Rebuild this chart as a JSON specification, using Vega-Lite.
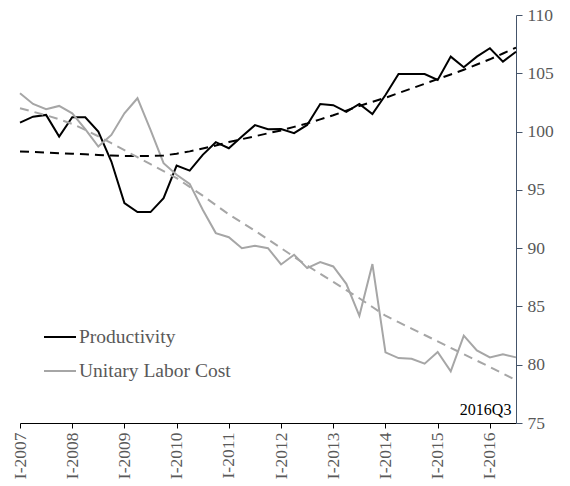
{
  "$schema": "https://vega.github.io/schema/vega-lite/v6.json",
  "width": 496,
  "height": 408,
  "autosize": {"type": "none"},
  "padding": {"left": 20, "top": 15, "right": 54, "bottom": 63},
  "config": {"view": {"stroke": null}, "font": "Liberation Serif"},
  "datasets": {
    "series": [
    {"i":0,"series":"Productivity","value":100.77,"trend":98.3},
    {"i":1,"series":"Productivity","value":101.28,"trend":98.25},
    {"i":2,"series":"Productivity","value":101.43,"trend":98.2},
    {"i":3,"series":"Productivity","value":99.57,"trend":98.15},
    {"i":4,"series":"Productivity","value":101.23,"trend":98.1},
    {"i":5,"series":"Productivity","value":101.23,"trend":98.05},
    {"i":6,"series":"Productivity","value":100.0,"trend":98.0},
    {"i":7,"series":"Productivity","value":97.43,"trend":97.95},
    {"i":8,"series":"Productivity","value":93.87,"trend":97.9},
    {"i":9,"series":"Productivity","value":93.09,"trend":97.9},
    {"i":10,"series":"Productivity","value":93.09,"trend":97.9},
    {"i":11,"series":"Productivity","value":94.29,"trend":97.95},
    {"i":12,"series":"Productivity","value":97.08,"trend":98.1},
    {"i":13,"series":"Productivity","value":96.65,"trend":98.3},
    {"i":14,"series":"Productivity","value":98.0,"trend":98.55},
    {"i":15,"series":"Productivity","value":99.09,"trend":98.8},
    {"i":16,"series":"Productivity","value":98.57,"trend":99.1},
    {"i":17,"series":"Productivity","value":99.57,"trend":99.35},
    {"i":18,"series":"Productivity","value":100.55,"trend":99.6},
    {"i":19,"series":"Productivity","value":100.2,"trend":99.85},
    {"i":20,"series":"Productivity","value":100.22,"trend":100.1},
    {"i":21,"series":"Productivity","value":99.86,"trend":100.4},
    {"i":22,"series":"Productivity","value":100.57,"trend":100.7},
    {"i":23,"series":"Productivity","value":102.37,"trend":101.05},
    {"i":24,"series":"Productivity","value":102.26,"trend":101.4},
    {"i":25,"series":"Productivity","value":101.69,"trend":101.8},
    {"i":26,"series":"Productivity","value":102.37,"trend":102.2},
    {"i":27,"series":"Productivity","value":101.51,"trend":102.55},
    {"i":28,"series":"Productivity","value":103.14,"trend":102.9},
    {"i":29,"series":"Productivity","value":104.94,"trend":103.3},
    {"i":30,"series":"Productivity","value":104.94,"trend":103.7},
    {"i":31,"series":"Productivity","value":104.94,"trend":104.1},
    {"i":32,"series":"Productivity","value":104.43,"trend":104.5},
    {"i":33,"series":"Productivity","value":106.43,"trend":104.9},
    {"i":34,"series":"Productivity","value":105.52,"trend":105.3},
    {"i":35,"series":"Productivity","value":106.43,"trend":105.75},
    {"i":36,"series":"Productivity","value":107.15,"trend":106.2},
    {"i":37,"series":"Productivity","value":106.0,"trend":106.7},
    {"i":38,"series":"Productivity","value":106.85,"trend":107.2},
    {"i":0,"series":"Unitary Labor Cost","value":103.29,"trend":102.0},
    {"i":1,"series":"Unitary Labor Cost","value":102.37,"trend":101.7},
    {"i":2,"series":"Unitary Labor Cost","value":101.92,"trend":101.4},
    {"i":3,"series":"Unitary Labor Cost","value":102.2,"trend":101.05},
    {"i":4,"series":"Unitary Labor Cost","value":101.57,"trend":100.65},
    {"i":5,"series":"Unitary Labor Cost","value":100.2,"trend":100.15},
    {"i":6,"series":"Unitary Labor Cost","value":98.71,"trend":99.6},
    {"i":7,"series":"Unitary Labor Cost","value":99.71,"trend":99.0},
    {"i":8,"series":"Unitary Labor Cost","value":101.57,"trend":98.4},
    {"i":9,"series":"Unitary Labor Cost","value":102.86,"trend":97.8},
    {"i":10,"series":"Unitary Labor Cost","value":100.14,"trend":97.2},
    {"i":11,"series":"Unitary Labor Cost","value":97.29,"trend":96.6},
    {"i":12,"series":"Unitary Labor Cost","value":96.29,"trend":96.0},
    {"i":13,"series":"Unitary Labor Cost","value":95.51,"trend":95.25},
    {"i":14,"series":"Unitary Labor Cost","value":93.29,"trend":94.5},
    {"i":15,"series":"Unitary Labor Cost","value":91.29,"trend":93.7},
    {"i":16,"series":"Unitary Labor Cost","value":90.94,"trend":92.9},
    {"i":17,"series":"Unitary Labor Cost","value":90.0,"trend":92.2},
    {"i":18,"series":"Unitary Labor Cost","value":90.2,"trend":91.5},
    {"i":19,"series":"Unitary Labor Cost","value":90.0,"trend":90.75},
    {"i":20,"series":"Unitary Labor Cost","value":88.6,"trend":90.0},
    {"i":21,"series":"Unitary Labor Cost","value":89.43,"trend":89.25},
    {"i":22,"series":"Unitary Labor Cost","value":88.29,"trend":88.5},
    {"i":23,"series":"Unitary Labor Cost","value":88.8,"trend":87.8},
    {"i":24,"series":"Unitary Labor Cost","value":88.43,"trend":87.1},
    {"i":25,"series":"Unitary Labor Cost","value":86.94,"trend":86.4},
    {"i":26,"series":"Unitary Labor Cost","value":84.2,"trend":85.7},
    {"i":27,"series":"Unitary Labor Cost","value":88.63,"trend":84.95},
    {"i":28,"series":"Unitary Labor Cost","value":81.06,"trend":84.2},
    {"i":29,"series":"Unitary Labor Cost","value":80.57,"trend":83.65},
    {"i":30,"series":"Unitary Labor Cost","value":80.51,"trend":83.1},
    {"i":31,"series":"Unitary Labor Cost","value":80.09,"trend":82.55},
    {"i":32,"series":"Unitary Labor Cost","value":81.09,"trend":82.0},
    {"i":33,"series":"Unitary Labor Cost","value":79.43,"trend":81.45},
    {"i":34,"series":"Unitary Labor Cost","value":82.49,"trend":80.9},
    {"i":35,"series":"Unitary Labor Cost","value":81.23,"trend":80.35},
    {"i":36,"series":"Unitary Labor Cost","value":80.63,"trend":79.8},
    {"i":37,"series":"Unitary Labor Cost","value":80.9,"trend":79.25},
    {"i":38,"series":"Unitary Labor Cost","value":80.63,"trend":78.66}
    ],
    "note": [{"i": 37.65, "value": 75.7, "label": "2016Q3"}]
  },
  "layer": [
    {
      "data": {"name": "series"},
      "mark": {"type": "line", "strokeWidth": 2},
      "encoding": {
        "x": {"field": "i", "type": "quantitative",
          "scale": {"domain": [0, 38], "nice": false, "zero": false},
          "axis": {"title": null, "values": [0,4,8,12,16,20,24,28,32,36],
            "labelExpr": "'I-' + (2007 + datum.value/4)",
            "labelAngle": -90, "labelAlign": "right", "labelBaseline": "middle",
            "labelFontSize": 17.5, "labelColor": "#595959", "labelPadding": 4,
            "domainColor": "#000000", "domainWidth": 1, "tickColor": "#000000", "tickSize": 5,
            "grid": false}
        },
        "y": {"field": "value", "type": "quantitative",
          "scale": {"domain": [75, 110], "nice": false, "zero": false},
          "axis": {"title": null, "orient": "right", "values": [75,80,85,90,95,100,105,110],
            "labelFontSize": 17.5, "labelColor": "#595959", "labelPadding": 5,
            "domainColor": "#44546a", "tickColor": "#44546a", "tickSize": 6, "grid": false}},
        "color": {"field": "series", "type": "nominal",
          "scale": {"domain": ["Productivity", "Unitary Labor Cost"], "range": ["#000000", "#a6a6a6"]},
          "legend": {"title": null, "orient": "none", "legendX": 23, "legendY": 305,
            "symbolType": "stroke", "symbolSize": 1024, "symbolStrokeWidth": 2,
            "labelFontSize": 19.5, "labelColor": "#595959", "labelOffset": 2,
            "rowPadding": 7, "padding": 0}}
      }
    },
    {
      "data": {"name": "series"},
      "mark": {"type": "line", "strokeWidth": 2, "strokeDash": [9, 6]},
      "encoding": {
        "x": {"field": "i", "type": "quantitative"},
        "y": {"field": "trend", "type": "quantitative"},
        "color": {"field": "series", "type": "nominal"}
      }
    },
    {
      "data": {"name": "note"},
      "mark": {"type": "text", "align": "right", "baseline": "alphabetic", "fontSize": 16, "color": "#000000"},
      "encoding": {
        "x": {"field": "i", "type": "quantitative"},
        "y": {"field": "value", "type": "quantitative"},
        "text": {"field": "label", "type": "nominal"}
      }
    }
  ]
}
